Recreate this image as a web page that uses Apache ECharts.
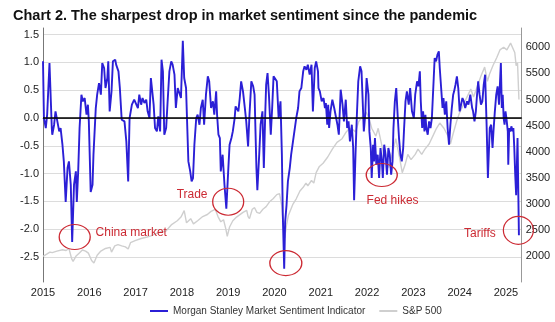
<!DOCTYPE html>
<html>
<head>
<meta charset="utf-8">
<script src="https://cdn.jsdelivr.net/npm/echarts@6/dist/echarts.min.js"></script>
<style>
html,body{margin:0;padding:0;background:#fff;}
#chart{width:555px;height:322px;}
</style>
</head>
<body>
<div id="chart"></div>
<script>
// ---- DATA ----
const titleText = 'Chart 2. The sharpest drop in market sentiment since the pandemic';
const sentimentName = 'Morgan Stanley Market Sentiment Indicator';
const spxName = 'S&P 500';
const yearTicks = [2015, 2016, 2017, 2018, 2019, 2020, 2021, 2022, 2023, 2024, 2025];
const leftTicks = [-2.5, -2.0, -1.5, -1.0, -0.5, 0.0, 0.5, 1.0, 1.5];
const rightTicks = [2000, 2500, 3000, 3500, 4000, 4500, 5000, 5500, 6000];

// [decimal year, indicator value]
const sentiment = [
[2015.00,1.02],[2015.02,0],[2015.06,-0.18],[2015.09,0.06],[2015.14,0.99],[2015.19,-0.18],[2015.20,-0.30],[2015.24,-0.12],[2015.27,0.12],[2015.31,0.15],[2015.35,-0.24],[2015.38,-0.18],[2015.42,-0.48],[2015.45,-0.78],[2015.49,-1.51],[2015.53,-0.90],[2015.56,-0.78],[2015.60,-1.20],[2015.63,-2.23],[2015.67,-1.20],[2015.71,-0.96],[2015.73,-1.51],[2015.76,-0.96],[2015.79,-0.18],[2015.83,0.42],[2015.86,0.30],[2015.90,0.36],[2015.94,0.06],[2015.97,0.24],[2015.99,-0.06],
[2016.03,-1.33],[2016.07,-1.20],[2016.09,-0.66],[2016.14,0.18],[2016.17,0.42],[2016.21,0.63],[2016.25,0.42],[2016.28,0.99],[2016.32,0.90],[2016.35,0.54],[2016.39,0.72],[2016.41,1.02],[2016.44,0.12],[2016.48,0.48],[2016.51,1.02],[2016.56,1.05],[2016.58,0.96],[2016.63,0.84],[2016.66,0.54],[2016.70,-0.03],[2016.73,0],[2016.76,-0.06],[2016.80,-0.42],[2016.84,-1.14],[2016.87,0],[2016.92,0.24],[2016.97,0.33],
[2017.01,0.36],[2017.05,0.18],[2017.08,0.42],[2017.12,0.24],[2017.15,0.36],[2017.19,0.27],[2017.23,0.33],[2017.26,0.12],[2017.30,0],[2017.33,0.72],[2017.37,0.72],[2017.39,0.24],[2017.42,-0.18],[2017.46,-0.24],[2017.49,0.03],[2017.53,-0.24],[2017.56,1.05],[2017.59,0.84],[2017.62,-0.30],[2017.66,-0.18],[2017.69,0.27],[2017.73,0.84],[2017.77,1.02],[2017.80,0.96],[2017.84,0.78],[2017.87,0.18],[2017.91,0.54],[2017.95,0.57],[2017.98,0.36],
[2018.02,1.39],[2018.05,0.72],[2018.09,0.54],[2018.11,0],[2018.14,-0.78],[2018.18,-0.96],[2018.21,-1.14],[2018.24,-1.08],[2018.27,-0.48],[2018.31,0],[2018.34,0.06],[2018.38,-0.12],[2018.41,0.18],[2018.45,0.33],[2018.48,-0.12],[2018.52,0.42],[2018.56,0.75],[2018.59,0.66],[2018.63,0.18],[2018.67,0.30],[2018.70,0.06],[2018.74,0.48],[2018.76,0.06],[2018.79,-0.30],[2018.82,-0.36],[2018.84,-0.96],[2018.88,-0.66],[2018.92,-1.20],[2018.96,-1.63],
[2019.00,-0.96],[2019.03,-0.48],[2019.07,-0.36],[2019.10,-0.24],[2019.14,0],[2019.16,0.21],[2019.19,0.18],[2019.22,0.12],[2019.25,0.36],[2019.28,0.66],[2019.32,0.48],[2019.36,0.18],[2019.39,-0.06],[2019.43,-0.51],[2019.46,0.06],[2019.50,0.66],[2019.54,0.57],[2019.57,0.42],[2019.61,-0.90],[2019.63,-1.30],[2019.67,-0.66],[2019.70,-0.12],[2019.74,0.12],[2019.77,-0.90],[2019.80,0.06],[2019.82,0.60],[2019.85,0.81],[2019.88,0.42],[2019.92,-0.30],[2019.95,0.18],[2019.98,0.75],
[2020.02,0.72],[2020.05,0.66],[2020.09,0],[2020.13,0.30],[2020.16,-0.66],[2020.18,-1.75],[2020.21,-2.71],[2020.23,-1.87],[2020.26,-1.57],[2020.29,-1.14],[2020.33,-0.90],[2020.36,-0.66],[2020.40,-0.42],[2020.44,-0.18],[2020.47,0],[2020.51,0.18],[2020.54,0.48],[2020.58,0.54],[2020.62,0.84],[2020.65,0.93],[2020.69,0.87],[2020.72,0.96],[2020.76,0.78],[2020.80,0.96],[2020.83,0.12],[2020.87,0.90],[2020.90,1.02],[2020.94,0.84],[2020.95,0.54],[2020.98,0.48],
[2021.02,0.30],[2021.06,0.36],[2021.09,0.18],[2021.11,0.27],[2021.14,-0.12],[2021.16,0.24],[2021.18,-0.18],[2021.21,0.12],[2021.25,0.33],[2021.29,0.18],[2021.32,0.18],[2021.36,-0.12],[2021.39,-0.30],[2021.43,0.51],[2021.47,0.24],[2021.50,-0.06],[2021.54,0.33],[2021.57,-0.18],[2021.60,-0.06],[2021.63,-0.42],[2021.67,-0.12],[2021.70,-0.54],[2021.72,-1.48],[2021.75,-0.66],[2021.78,0.06],[2021.81,0.66],[2021.85,0.93],[2021.88,0.84],[2021.90,0.42],[2021.93,-0.24],[2021.96,0.06],[2021.99,0.72],
[2022.03,0.42],[2022.05,-0.24],[2022.08,-0.54],[2022.10,-1.08],[2022.13,-0.48],[2022.15,-0.78],[2022.17,-0.36],[2022.20,-0.84],[2022.23,-0.66],[2022.26,-1.08],[2022.29,-0.54],[2022.32,-0.78],[2022.34,-1.08],[2022.37,-0.48],[2022.40,-0.66],[2022.43,-1.02],[2022.46,-0.54],[2022.49,-0.66],[2022.52,-1.02],[2022.55,-0.78],[2022.57,-0.18],[2022.60,0.30],[2022.63,0.54],[2022.66,0.06],[2022.69,-0.36],[2022.72,-0.66],[2022.75,-0.78],[2022.78,-0.54],[2022.80,-0.18],[2022.83,0.30],[2022.86,0.48],[2022.90,0.24],[2022.93,0.54],[2022.97,0.12],
[2023.01,0],[2023.04,0.42],[2023.08,0.66],[2023.11,0.57],[2023.14,0.84],[2023.16,0.30],[2023.19,-0.18],[2023.21,0.12],[2023.24,-0.24],[2023.26,0.06],[2023.28,-0.18],[2023.31,-0.30],[2023.34,-0.06],[2023.37,-0.18],[2023.40,0],[2023.44,0.72],[2023.46,1.08],[2023.49,1.02],[2023.52,1.14],[2023.55,1.20],[2023.57,0.90],[2023.60,0.54],[2023.63,0.18],[2023.65,0.36],[2023.68,0.06],[2023.71,0.30],[2023.74,-0.18],[2023.77,-0.48],[2023.80,-0.12],[2023.83,0.18],[2023.86,0.42],[2023.88,0.48],[2023.91,0.60],[2023.94,0.75],[2023.97,0.54],
[2024.00,0.12],[2024.03,0.24],[2024.06,0.36],[2024.09,0.30],[2024.12,0.18],[2024.16,0.30],[2024.19,0.24],[2024.23,0.42],[2024.27,0.18],[2024.29,0.12],[2024.32,-0.06],[2024.35,0.12],[2024.37,0.36],[2024.40,0.66],[2024.43,0.42],[2024.46,0.24],[2024.49,0.30],[2024.52,0.60],[2024.55,0.78],[2024.58,-0.06],[2024.61,-1.08],[2024.65,-0.18],[2024.68,-0.12],[2024.71,-0.54],[2024.73,-0.24],[2024.76,0.12],[2024.79,0.42],[2024.82,0.57],[2024.85,0.24],[2024.89,0.99],[2024.91,0.18],[2024.93,0.42],[2024.95,0],[2024.97,-0.12],[2024.99,0.12],
[2025.01,0],[2025.04,-0.24],[2025.05,-0.84],[2025.07,-0.18],[2025.09,-0.24],[2025.12,-0.15],[2025.14,-0.24],[2025.16,-0.18],[2025.18,-0.54],[2025.20,-1.02],[2025.22,-1.39],[2025.25,-0.36],[2025.28,-2.11]
];

// [decimal year, S&P 500 level]
const spx = [
[2015.00,2000],[2015.08,2040],[2015.15,2080],[2015.20,2070],[2015.30,2100],[2015.42,2126],[2015.50,2110],[2015.56,2150],[2015.62,1950],[2015.65,1904],[2015.71,2000],[2015.78,2060],[2015.85,2120],[2015.92,2100],[2015.98,2060],
[2016.05,1920],[2016.10,1872],[2016.17,2020],[2016.25,2100],[2016.35,2150],[2016.45,2170],[2016.48,2080],[2016.55,2200],[2016.62,2222],[2016.70,2200],[2016.78,2180],[2016.84,2140],[2016.89,2260],[2016.99,2300],
[2017.12,2340],[2017.25,2370],[2017.33,2390],[2017.45,2440],[2017.55,2470],[2017.65,2480],[2017.77,2600],[2017.90,2680],[2017.98,2750],
[2018.05,2873],[2018.10,2640],[2018.12,2605],[2018.19,2720],[2018.25,2620],[2018.34,2680],[2018.45,2760],[2018.55,2800],[2018.63,2860],[2018.72,2900],[2018.78,2760],[2018.84,2660],[2018.90,2700],[2018.95,2520],[2018.98,2383],
[2019.03,2560],[2019.10,2680],[2019.18,2750],[2019.32,2840],[2019.40,2880],[2019.43,2760],[2019.46,2720],[2019.52,2900],[2019.57,2930],[2019.62,2840],[2019.68,2820],[2019.75,2900],[2019.82,2950],[2019.90,3050],[2019.97,3100],
[2020.05,3180],[2020.11,3200],[2020.16,2950],[2020.19,2600],[2020.22,2350],[2020.26,2600],[2020.30,2780],[2020.40,3000],[2020.47,3100],[2020.55,3250],[2020.62,3320],[2020.68,3400],[2020.72,3350],[2020.80,3450],[2020.85,3400],[2020.90,3600],[2020.97,3720],
[2021.05,3780],[2021.15,3900],[2021.25,4050],[2021.35,4180],[2021.46,4250],[2021.55,4380],[2021.62,4450],[2021.70,4420],[2021.75,4380],[2021.82,4580],[2021.90,4672],[2021.98,4760],
[2022.04,4650],[2022.10,4450],[2022.19,4300],[2022.24,4450],[2022.30,4200],[2022.36,3950],[2022.42,3850],[2022.47,3700],[2022.54,3950],[2022.62,4250],[2022.70,3900],[2022.76,3600],[2022.82,3750],[2022.88,3950],[2022.95,3850],
[2023.04,3950],[2023.10,4050],[2023.18,3950],[2023.25,4050],[2023.34,4150],[2023.42,4300],[2023.50,4450],[2023.57,4550],[2023.66,4450],[2023.75,4300],[2023.80,4150],[2023.86,4350],[2023.94,4600],
[2024.00,4750],[2024.08,4900],[2024.16,5050],[2024.24,5200],[2024.30,5050],[2024.38,5250],[2024.46,5450],[2024.54,5620],[2024.60,5350],[2024.65,5500],[2024.72,5650],[2024.80,5800],[2024.87,5950],[2024.95,6000],
[2025.02,5950],[2025.10,6080],[2025.14,6115],[2025.19,5900],[2025.22,5650],[2025.25,5700],[2025.28,5000]
];

// annotations: [label, decimal year, indicator value]
const annotations = [
  ['China market', 2015.685, -2.14],
  ['Trade', 2019.00, -1.505],
  ['', 2020.245, -2.61],
  ['Fed hikes', 2022.317, -1.025],
  ['Tariffs', 2025.268, -2.02]
];

// ---- STYLE (positions of annotation labels relative to their ellipse) ----
const annoStyle = [
  {size:[31,25], pos:[37,8.5], align:'left'},
  {size:[31,27], pos:[-4.5,7.5], align:'right'},
  {size:[32,25], pos:[0,0], align:'left'},
  {size:[31,23], pos:[1,37.5], align:'left'},
  {size:[30,28], pos:[-7,17.5], align:'right'}
];
const red = '#cc2a33';
const ellipsePath = 'path://M0,50 A50,50 0 1,1 100,50 A50,50 0 1,1 0,50 Z';

const font = 'Liberation Sans, Arial, sans-serif';
const chart = echarts.init(document.getElementById('chart'), null, {renderer:'canvas'});

const markPoints = annotations.map((a, i) => ({
  coord: [a[1], a[2]],
  symbol: ellipsePath,
  symbolSize: annoStyle[i].size,
  symbolKeepAspect: false,
  itemStyle: {color:'rgba(0,0,0,0)', borderColor: red, borderWidth: 1.2},
  label: {
    show: a[0] !== '',
    formatter: a[0],
    position: annoStyle[i].pos,
    align: annoStyle[i].align,
    verticalAlign: 'middle',
    color: red,
    fontSize: 12,
    fontFamily: font
  }
}));

const option = {
  animation: false,
  title: {
    text: titleText,
    left: 8, top: 3,
    textStyle: {fontFamily: font, fontWeight: 'bold', fontSize: 14.5, color: '#111'}
  },
  legend: {
    bottom: 1, left: 145,
    icon: 'rect', itemWidth: 18, itemHeight: 2, itemGap: 14,
    textStyle: {fontFamily: font, fontSize: 10, color: '#333'},
    data: [sentimentName, spxName]
  },
  grid: {left: 43, right: 33.3, top: 28, bottom: 40, containLabel: false},
  xAxis: {
    type: 'value', min: 2015, max: 2025.34, interval: 1,
    axisLine: {show: true, lineStyle: {color: '#888', width: 1}},
    axisTick: {show: false},
    splitLine: {show: false},
    axisLabel: {
      margin: 5, fontSize: 11, color: '#222', fontFamily: font,
      customValues: yearTicks,
      formatter: v => (Number.isInteger(v) ? String(v) : '')
    }
  },
  yAxis: [
    {
      type: 'value', position: 'left', min: -2.95, max: 1.62,
      axisLine: {show: true, lineStyle: {color: '#777', width: 1}},
      axisTick: {show: false, customValues: leftTicks},
      splitLine: {show: true, lineStyle: {color: '#dcdcdc', width: 1}},
      axisLabel: {
        customValues: leftTicks, margin: 4, fontSize: 11, color: '#222', fontFamily: font,
        formatter: v => v.toFixed(1)
      }
    },
    {
      type: 'value', position: 'right', min: 1508, max: 6369,
      axisLine: {show: true, lineStyle: {color: '#999', width: 1}},
      axisTick: {show: false, customValues: rightTicks},
      splitLine: {show: false},
      axisLabel: {
        customValues: rightTicks, margin: 4, fontSize: 11, color: '#222', fontFamily: font,
        formatter: v => String(v)
      }
    }
  ],
  series: [
    {
      name: spxName, type: 'line', yAxisIndex: 1, data: spx,
      showSymbol: false, symbol: 'none',
      lineStyle: {color: '#cfcfcf', width: 1.4},
      itemStyle: {color: '#cfcfcf'},
      z: 1
    },
    {
      name: sentimentName, type: 'line', yAxisIndex: 0, data: sentiment,
      showSymbol: false, symbol: 'none',
      lineStyle: {color: '#2b1fd6', width: 1.9},
      itemStyle: {color: '#2b1fd6'},
      z: 3,
      markLine: {
        silent: true, symbol: ['none', 'none'],
        label: {show: false},
        lineStyle: {color: '#000', width: 1.5, type: 'solid'},
        data: [{yAxis: 0}]
      },
      markPoint: {silent: true, data: markPoints}
    }
  ]
};
chart.setOption(option);
</script>
</body>
</html>
